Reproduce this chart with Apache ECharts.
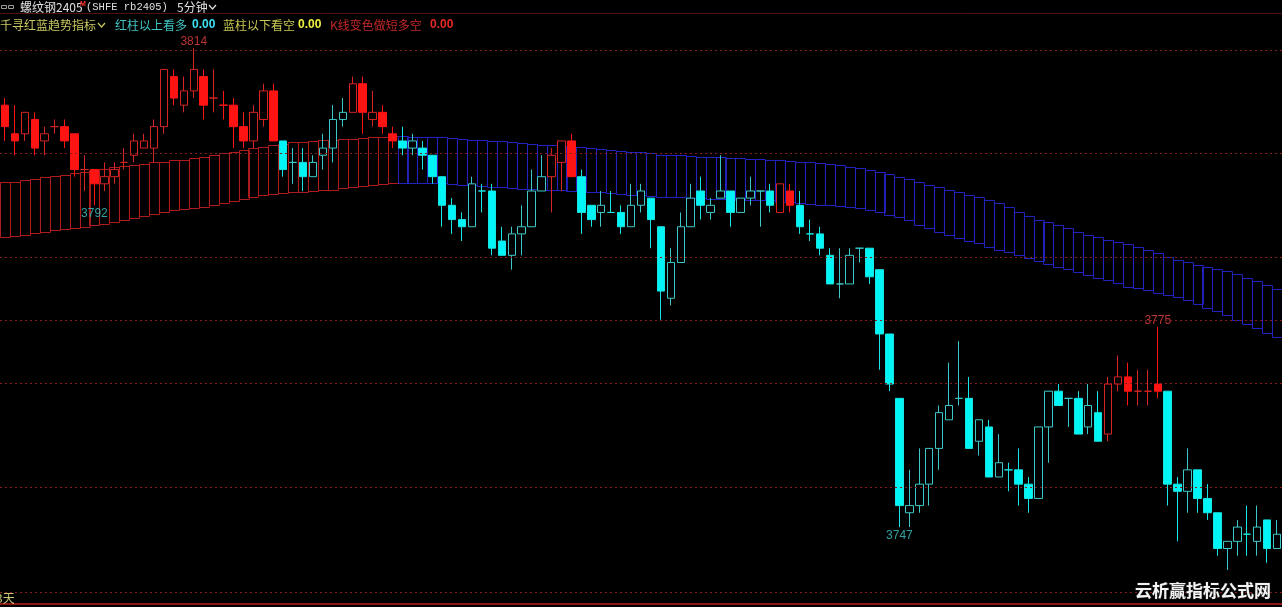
<!DOCTYPE html>
<html><head><meta charset="utf-8">
<script src="https://cdn.jsdelivr.net/npm/echarts@6/dist/echarts.min.js"></script>
<style>html,body{margin:0;padding:0;background:#000;overflow:hidden}#c{width:1282px;height:607px}</style>
</head><body><div id="c"></div><script>
// ---- candle data (5-minute bars, rb2405) ----
const kOpen = [
3806,3802,3802,3804,3801,3803,3803,3802,3797,3797,
3795,3796,3798,3799,3800,3800,3803,3810,3806,3808,
3810,3807,3806,3806,3803,3801,3804,3808,3801,3798,
3798,3796,3799,3800,3804,3805,3809,3804,3805,3802,
3801,3800,3800,3799,3796,3792,3790,3789,3794,3794,
3787,3785,3788,3789,3794,3796,3798,3801,3796,3792,
3791,3791,3791,3789,3792,3793,3789,3779,3784,3789,
3794,3791,3793,3794,3791,3793,3794,3794,3791,3794,
3792,3788,3788,3785,3781,3781,3786,3786,3783,3774,
3765,3749,3750,3753,3758,3762,3765,3765,3759,3761,
3754,3755,3755,3753,3751,3761,3766,3765,3765,3761,
3763,3760,3767,3768,3766,3766,3767,3766,3753,3752,
3755,3751,3749,3744,3745,3746,3745,3748,3744];
const kClose = [
3803,3801,3805,3800,3802,3803,3801,3797,3797,3795,
3796,3797,3798,3801,3801,3803,3811,3807,3808,3811,
3806,3807,3806,3803,3801,3805,3808,3801,3797,3798,
3796,3798,3800,3804,3805,3809,3805,3805,3803,3801,
3800,3801,3799,3796,3792,3790,3789,3795,3794,3786,
3785,3788,3789,3794,3796,3799,3801,3796,3791,3790,
3792,3791,3789,3792,3794,3790,3780,3784,3789,3793,
3792,3792,3794,3791,3793,3794,3794,3792,3795,3792,
3789,3788,3786,3781,3781,3785,3786,3782,3774,3767,
3750,3750,3753,3758,3763,3764,3765,3758,3762,3754,
3756,3755,3753,3751,3761,3766,3764,3765,3760,3764,
3759,3767,3768,3766,3766,3766,3766,3753,3752,3755,
3751,3749,3744,3745,3747,3746,3747,3744,3746];
const kLow = [
3801,3799,3801,3799,3799,3802,3800,3796,3794,3792,
3794,3795,3797,3798,3800,3798,3802,3806,3805,3807,
3804,3805,3804,3800,3800,3800,3803,3801,3796,3795,
3794,3796,3797,3798,3803,3805,3802,3803,3802,3800,
3799,3799,3797,3795,3789,3788,3787,3789,3791,3785,
3785,3783,3785,3789,3794,3791,3794,3796,3788,3789,
3789,3791,3788,3789,3791,3786,3776,3778,3784,3789,
3790,3790,3793,3789,3791,3792,3789,3791,3791,3791,
3788,3787,3785,3781,3779,3781,3784,3781,3769,3766,
3747,3747,3749,3750,3755,3762,3764,3758,3757,3754,
3754,3752,3750,3749,3751,3756,3764,3761,3760,3760,
3759,3759,3766,3764,3764,3764,3765,3750,3745,3749,
3749,3748,3743,3741,3743,3743,3743,3742,3744];
const kHigh = [
3807,3806,3805,3805,3803,3804,3804,3802,3799,3797,
3798,3798,3800,3802,3802,3804,3811,3811,3810,3814,
3811,3811,3808,3807,3805,3806,3809,3809,3801,3800,
3800,3799,3802,3806,3807,3810,3810,3808,3806,3803,
3803,3802,3801,3799,3796,3793,3791,3796,3795,3795,
3789,3789,3792,3797,3799,3800,3801,3802,3797,3792,
3794,3794,3792,3795,3795,3793,3789,3786,3791,3795,
3796,3793,3799,3794,3793,3796,3794,3795,3795,3795,
3794,3790,3789,3786,3786,3786,3786,3786,3783,3774,
3765,3755,3758,3758,3764,3770,3773,3768,3762,3762,
3760,3756,3758,3754,3761,3766,3767,3765,3766,3767,
3766,3768,3771,3770,3769,3769,3775,3766,3754,3758,
3755,3753,3749,3745,3748,3750,3750,3748,3748];
// K-line colour state: R = red (bull), C = cyan (bear)
const kSide = (
'RRRRRRRRRR'+'RRRRRRRRRR'+'RRRRRRRRCC'+'CCCCCRRRRR'+'CCCCCCCCCC'+
'CCCCCRRRCC'+'CCCCCCCCCC'+'CCCCCCCCRR'+'CCCCCCCCCC'+'CCCCCCCCCC'+
'CCCCCCCCCC'+'CRRRRRRCCC'+'CCCCCCCCC').split('');

// ---- trend ribbon (千寻红蓝趋势) ----
const bandUpper = [
3795.2,3795.3,3795.5,3795.7,3796.0,3796.1,3796.3,3796.5,3796.7,3796.9,
3797.1,3797.3,3797.5,3797.6,3797.8,3798.0,3798.1,3798.3,3798.4,3798.6,
3798.8,3799.0,3799.3,3799.5,3799.7,3800.0,3800.2,3800.4,3800.6,3800.8,
3800.9,3801.0,3801.1,3801.2,3801.3,3801.3,3801.4,3801.5,3801.6,3801.7,
3801.7,3801.6,3801.6,3801.6,3801.5,3801.4,3801.3,3801.2,3801.1,3801.0,
3801.0,3800.9,3800.7,3800.6,3800.5,3800.4,3800.3,3800.2,3800.1,3800.0,
3799.9,3799.7,3799.6,3799.5,3799.4,3799.3,3799.1,3799.0,3799.0,3798.9,
3798.8,3798.8,3798.7,3798.6,3798.6,3798.5,3798.5,3798.4,3798.3,3798.2,
3798.1,3798.0,3797.9,3797.8,3797.6,3797.4,3797.2,3796.9,3796.7,3796.4,
3796.0,3795.7,3795.3,3794.8,3794.5,3794.1,3793.8,3793.4,3793.2,3792.7,
3792.3,3791.7,3791.1,3790.5,3790.0,3789.6,3789.2,3788.8,3788.3,3787.9,
3787.6,3787.2,3786.9,3786.6,3786.2,3785.7,3785.3,3784.8,3784.3,3784.0,
3783.7,3783.4,3783.1,3782.8,3782.4,3781.9,3781.4,3780.9,3780.3];
const bandLower = [
3787.5,3787.7,3787.9,3788.1,3788.3,3788.5,3788.7,3788.8,3789.0,3789.2,
3789.4,3789.7,3789.9,3790.2,3790.5,3790.8,3791.1,3791.3,3791.5,3791.6,
3791.8,3792.1,3792.3,3792.6,3792.9,3793.2,3793.4,3793.6,3793.7,3793.8,
3793.9,3794.0,3794.1,3794.2,3794.4,3794.6,3794.7,3794.8,3795.0,3795.1,
3795.1,3795.1,3795.1,3795.1,3795.1,3795.0,3794.9,3794.8,3794.7,3794.6,
3794.5,3794.4,3794.3,3794.3,3794.2,3794.2,3794.1,3794.0,3794.0,3793.9,
3793.8,3793.7,3793.6,3793.5,3793.4,3793.3,3793.2,3793.1,3793.1,3793.0,
3793.0,3792.9,3792.9,3792.9,3792.8,3792.8,3792.7,3792.7,3792.5,3792.4,
3792.3,3792.2,3792.1,3792.0,3791.9,3791.8,3791.6,3791.3,3791.1,3790.7,
3790.3,3789.9,3789.3,3788.8,3788.3,3787.8,3787.4,3787.0,3786.7,3786.2,
3785.8,3785.4,3785.0,3784.6,3784.2,3783.8,3783.4,3783.1,3782.7,3782.3,
3781.9,3781.5,3781.1,3780.6,3780.4,3780.1,3779.8,3779.5,3779.2,3778.7,
3778.2,3777.7,3777.2,3776.7,3776.0,3775.4,3774.8,3774.2,3773.6];
const redBandLastIndex = 39;

// ---- swing high / low labels ----
const swingIndex = [19, 9, 90, 116];
const swingPrice = [3814, 3792, 3747, 3775];
const swingIsHigh = [true, false, false, true];

// ---- dotted price levels ----
const levelLines = [3813.7, 3799.3, 3784.8, 3775.9, 3767.1, 3752.6, 3737.9];

const Y_MIN = 3735.82, Y_MAX = 3820.71;
const categories = kOpen.map((_, i) => String(i));

function candlesFor(side) {
  return kOpen.map((o, i) => kSide[i] === side ? [o, kClose[i], kLow[i], kHigh[i]] : ['-', '-', '-', '-']);
}

const bandData = bandUpper.map((u, i) => [i, u, bandLower[i], i <= redBandLastIndex ? 1 : 0]);

function renderBand(params, api) {
  const i = api.value(0);
  const pTop = api.coord([i, api.value(1)]);
  const pBot = api.coord([i, api.value(2)]);
  const w = api.size([1, 0])[0];
  const x0 = Math.round(pTop[0] - w / 2) + 0.5;
  const y0 = Math.round(pTop[1]) + 0.5;
  const y1 = Math.round(pBot[1]) + 0.5;
  return {
    type: 'rect',
    shape: { x: x0, y: y0, width: w, height: y1 - y0 },
    style: { fill: 'none', stroke: api.value(3) ? '#b01c1c' : '#2222c0', lineWidth: 1 }
  };
}

const CJK = '"Noto Sans CJK SC", sans-serif';
function txt(x, y, text, fill, font) {
  return { type: 'text', x: x, y: y, silent: true, z: 100,
    style: { text: text, fill: fill, font: font || ('12px ' + CJK), verticalAlign: 'middle' } };
}
function chevron(x, y, color) {
  return { type: 'polyline', silent: true, z: 100,
    shape: { points: [[x, y - 2], [x + 3.5, y + 2], [x + 7, y - 2]] },
    style: { stroke: color, lineWidth: 1.2, fill: 'none' } };
}

const chart = echarts.init(document.getElementById('c'), null, { renderer: 'canvas' });
chart.setOption({
  backgroundColor: '#000',
  animation: false,
  grid: { left: -5, top: 0, width: 1290, height: 607 },
  xAxis: { type: 'category', data: categories, show: false, boundaryGap: true },
  yAxis: { type: 'value', min: Y_MIN, max: Y_MAX, show: false, splitLine: { show: false } },
  series: [
    {
      type: 'line', data: [], z: 1, silent: true,
      markLine: {
        silent: true, symbol: 'none', label: { show: false },
        lineStyle: { type: [2, 3], color: '#861c1c', width: 1 },
        data: levelLines.map(v => ({ yAxis: v }))
      }
    },
    {
      type: 'custom', renderItem: renderBand, data: bandData, z: 2, silent: true,
      encode: { x: 0, y: [1, 2] }
    },
    {
      name: 'red', type: 'candlestick', data: candlesFor('R'), barWidth: 8, z: 3, silent: true,
      itemStyle: { color: '#000', color0: '#ff1414', borderColor: '#d42424', borderColor0: '#ff1414', borderWidth: 1 }
    },
    {
      name: 'cyan', type: 'candlestick', data: candlesFor('C'), barWidth: 8, z: 3, silent: true,
      itemStyle: { color: '#000', color0: '#00f6f6', borderColor: '#3cc8c8', borderColor0: '#18e4e4', borderWidth: 1 }
    },
    {
      type: 'scatter', symbolSize: 1, silent: true, z: 4,
      itemStyle: { color: 'rgba(0,0,0,0)' },
      data: swingIndex.map((idx, k) => ({
        value: [idx, swingPrice[k]],
        label: {
          show: true, position: swingIsHigh[k] ? 'top' : 'bottom', distance: swingIsHigh[k] ? 0 : 2,
          formatter: String(swingPrice[k]), color: swingIsHigh[k] ? '#e84040' : '#3ccaca',
          fontSize: 12, fontFamily: 'Liberation Sans'
        }
      }))
    }
  ],
  graphic: [
    { type: 'line', silent: true, z: 90, shape: { x1: 0, y1: 13.5, x2: 1282, y2: 13.5 }, style: { stroke: '#4a1212', lineWidth: 1 } },
    { type: 'line', silent: true, z: 90, shape: { x1: 0, y1: 604, x2: 1282, y2: 604 }, style: { stroke: '#8c1414', lineWidth: 2 } },
    { type: 'rect', silent: true, z: 100, shape: { x: 1.5, y: 5.5, width: 5, height: 3 }, style: { stroke: '#9a9a9a', fill: 'none', lineWidth: 1 } },
    { type: 'rect', silent: true, z: 100, shape: { x: 8.5, y: 5.5, width: 5, height: 3 }, style: { stroke: '#9a9a9a', fill: 'none', lineWidth: 1 } },
    txt(20, 7, '螺纹钢2405', '#e0e0e0'),
    txt(80, 4, 'M', '#ff3030', 'bold 7px "Liberation Sans"'),
    txt(86, 7, '(SHFE rb2405)', '#e0e0e0', '10.5px "Liberation Mono"'),
    txt(177, 7, '5分钟', '#e0e0e0'),
    chevron(209, 7, '#e0e0e0'),
    txt(0, 25, '千寻红蓝趋势指标', '#c8c860'),
    chevron(98, 25, '#c8c860'),
    txt(115, 25, '红柱以上看多', '#40c4c4'),
    txt(192, 25, '0.00', '#3ce0f0', 'bold 12px "Liberation Sans"'),
    txt(223, 25, '蓝柱以下看空', '#c8c850'),
    txt(298, 25, '0.00', '#f0f040', 'bold 12px "Liberation Sans"'),
    txt(330, 25, 'K线变色做短多空', '#c42626'),
    txt(430, 25, '0.00', '#e82828', 'bold 12px "Liberation Sans"'),
    txt(-4, 598, '3天', '#c8c878'),
    { type: 'text', x: 1135, y: 591, silent: true, z: 100,
      style: { text: '云析赢指标公式网', fill: '#f4f4f4', font: 'bold 17px ' + CJK, verticalAlign: 'middle',
               stroke: '#202020', lineWidth: 1 } }
  ]
});
</script></body></html>
